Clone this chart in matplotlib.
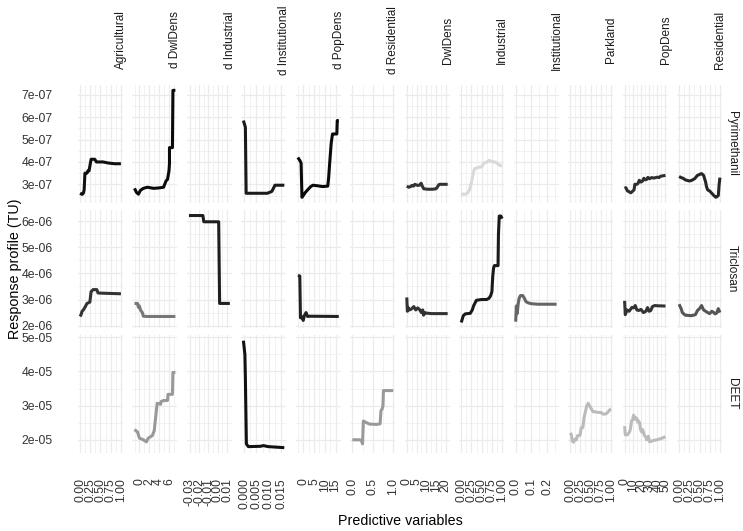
import numpy as np
import matplotlib.pyplot as plt
from matplotlib.ticker import FixedLocator, FixedFormatter, AutoMinorLocator, FuncFormatter

plt.rcParams['font.family'] = ['Liberation Sans', 'DejaVu Sans']

compounds = ['Pyrimethanil', 'Triclosan', 'DEET']
row_scale = [1e-07, 1e-06, 1e-05]
variables = ['Agricultural', 'd DwlDens', 'd Industrial', 'd Institutional', 'd PopDens',
             'd Residential', 'DwlDens', 'Industrial', 'Institutional', 'Parkland',
             'PopDens', 'Residential']

# x breaks per variable (values, labels)
x_ticks = [
    [0, 0.25, 0.5, 0.75, 1.0],
    [0, 2, 4, 6],
    [-0.03, -0.02, -0.01, 0.0, 0.01],
    [0.0, 0.005, 0.010, 0.015],
    [0, 5, 10, 15],
    [0.0, 0.5, 1.0],
    [0, 5, 10, 15, 20],
    [0, 0.25, 0.5, 0.75, 1.0],
    [0.0, 0.1, 0.2],
    [0, 0.25, 0.5, 0.75, 1.0],
    [0, 10, 20, 30, 40, 50],
    [0, 0.25, 0.5, 0.75, 1.0],
]
x_tick_labels = [
    ['0.00', '0.25', '0.50', '0.75', '1.00'],
    ['0', '2', '4', '6'],
    ['-0.03', '-0.02', '-0.01', '0.00', '0.01'],
    ['0.000', '0.005', '0.010', '0.015'],
    ['0', '5', '10', '15'],
    ['0.0', '0.5', '1.0'],
    ['0', '5', '10', '15', '20'],
    ['0.00', '0.25', '0.50', '0.75', '1.00'],
    ['0.0', '0.1', '0.2'],
    ['0.00', '0.25', '0.50', '0.75', '1.00'],
    ['0', '10', '20', '30', '40', '50'],
    ['0.00', '0.25', '0.50', '0.75', '1.00'],
]
# y breaks per compound, in units of row_scale
y_ticks = [[3, 4, 5, 6, 7], [2, 3, 4, 5, 6], [2, 3, 4, 5]]

# ---- Pyrimethanil (x1e-07) ----
pyr_agri_x = [0, 0.05, 0.08, 0.1, 0.12, 0.17, 0.19, 0.22, 0.27, 0.36, 0.40, 0.56, 0.7, 0.85, 1.0]
pyr_agri_y = [2.6, 2.55, 2.6, 2.75, 3.5, 3.5, 3.6, 3.6, 4.12, 4.12, 4.0, 4.0, 3.95, 3.92, 3.92]
pyr_ddwl_x = [-1.0, -0.6, -0.2, 0.2, 0.8, 1.6, 2.9, 4.0, 4.9, 5.4, 5.7, 6.0, 6.1, 6.1, 6.7, 6.8, 7.3]
pyr_ddwl_y = [2.82, 2.64, 2.56, 2.73, 2.82, 2.87, 2.82, 2.84, 2.87, 3.15, 3.22, 3.6, 3.93, 4.64, 4.64, 7.2, 7.2]
pyr_dinst_x = [-0.0003, 0.0005, 0.0008, 0.0094, 0.0105, 0.0112, 0.0118, 0.0125, 0.0163]
pyr_dinst_y = [5.85, 5.55, 2.6, 2.6, 2.65, 2.68, 2.8, 2.96, 2.96]
pyr_dpop_x = [-2.5, -1.5, -1.0, -0.6, 0.0, 1.0, 2.0, 3.5, 4.5, 7, 9, 11.4, 11.8, 12.4, 13.0,
              13.6, 14.5, 15.6, 15.8, 16.5]
pyr_dpop_y = [4.2, 4.05, 3.95, 2.42, 2.5, 2.64, 2.75, 2.9, 2.96, 2.93, 2.9, 2.92, 3.3, 4.1, 4.85,
              5.25, 5.25, 5.25, 5.85, 5.85]
pyr_dwl_x = [0, 1, 2, 2.6, 3.5, 4.1, 5, 5.6, 6.5, 7.4, 7.8, 8.7, 10.8, 13.3, 15, 15.5, 16.4, 17, 21]
pyr_dwl_y = [2.92, 2.87, 2.9, 2.95, 2.92, 3.0, 2.97, 2.95, 2.96, 3.05, 2.95, 2.8, 2.78, 2.78, 2.8,
             2.85, 2.98, 3.0, 3.0]
pyr_ind_x = [0, 0.1, 0.15, 0.2, 0.25, 0.3, 0.33, 0.42, 0.5, 0.55, 0.62, 0.68, 0.75, 0.85, 0.9, 0.95, 1.0]
pyr_ind_y = [2.56, 2.56, 2.6, 2.75, 3.1, 3.55, 3.7, 3.76, 3.78, 3.93, 4.0, 4.07, 4.02, 3.98, 3.9,
             3.84, 3.84]
pyr_pop_x = [0, 1.5, 3.5, 5, 7.5, 10, 11.5, 12.5, 15, 16.5, 18, 20, 22, 23.5, 25.5, 27, 28.5, 30.5,
             33, 36, 38, 40, 42, 44, 47, 50]
pyr_pop_y = [2.82, 2.85, 2.7, 2.68, 2.62, 2.7, 2.75, 3.0, 3.0, 3.05, 3.18, 3.1, 3.15, 3.27, 3.2,
             3.22, 3.31, 3.25, 3.3, 3.28, 3.3, 3.32, 3.3, 3.36, 3.38, 3.4]
pyr_res_x = [0, 0.05, 0.1, 0.15, 0.25, 0.3, 0.38, 0.45, 0.55, 0.6, 0.65, 0.67, 0.7, 0.75, 0.8, 0.85,
             0.9, 0.93, 0.96, 0.98, 1.0]
pyr_res_y = [3.35, 3.3, 3.27, 3.2, 3.15, 3.17, 3.25, 3.4, 3.48, 3.4, 3.1, 2.9, 2.75, 2.7, 2.6, 2.5,
             2.42, 2.45, 2.5, 3.0, 3.3]

# ---- Triclosan (x1e-06) ----
tri_agri_x = [0, 0.02, 0.05, 0.08, 0.12, 0.17, 0.24, 0.27, 0.32, 0.41, 0.44, 0.6, 1.0]
tri_agri_y = [2.35, 2.4, 2.55, 2.6, 2.7, 2.85, 2.9, 3.3, 3.38, 3.38, 3.25, 3.24, 3.22]
tri_ddwl_x = [-1.0, -0.4, -0.2, 0.0, 0.2, 0.6, 0.8, 1.6, 4, 7.3]
tri_ddwl_y = [2.85, 2.85, 2.7, 2.75, 2.6, 2.5, 2.36, 2.35, 2.35, 2.35]
tri_dind_x = [-0.031, -0.016, -0.015, 0.001, 0.002, 0.013]
tri_dind_y = [6.22, 6.22, 5.98, 5.98, 2.85, 2.85]
tri_dpop_x = [-2.5, -1.6, -1.3, -0.8, 0.0, 0.5, 1.3, 2.0, 3.0, 16.5]
tri_dpop_y = [3.92, 3.9, 2.3, 2.35, 2.2, 2.38, 2.5, 2.35, 2.36, 2.35]
tri_dwl_x = [0, 0.3, 0.6, 1.5, 2.6, 3.6, 4.6, 5.6, 6.5, 7.5, 8.2, 8.6, 9.3, 10, 12.6, 21]
tri_dwl_y = [3.08, 2.55, 2.7, 2.6, 2.65, 2.73, 2.6, 2.68, 2.62, 2.5, 2.6, 2.4, 2.5, 2.48, 2.46, 2.46]
tri_ind_x = [0, 0.05, 0.1, 0.15, 0.22, 0.27, 0.3, 0.37, 0.5, 0.62, 0.68, 0.72, 0.75, 0.77, 0.79,
             0.81, 0.9, 0.91, 0.93, 0.97, 1.0]
tri_ind_y = [2.12, 2.38, 2.45, 2.46, 2.47, 2.6, 2.75, 2.97, 3.0, 3.0, 3.05, 3.15, 3.3, 3.88, 4.2,
             4.3, 4.3, 5.5, 6.2, 6.2, 6.1]
tri_inst_x = [0, 0.004, 0.008, 0.012, 0.016, 0.022, 0.03, 0.045, 0.055, 0.065, 0.08, 0.1, 0.14, 0.26]
tri_inst_y = [2.15, 2.75, 2.45, 2.6, 2.85, 3.05, 3.15, 3.15, 3.05, 2.92, 2.87, 2.84, 2.82, 2.82]
tri_pop_x = [0, 0.8, 3, 5.5, 9, 11, 13, 15, 17, 20, 23, 26, 28, 30, 32, 34, 37, 40, 50]
tri_pop_y = [2.95, 2.42, 2.6, 2.55, 2.7, 2.68, 2.77, 2.6, 2.58, 2.62, 2.5, 2.55, 2.69, 2.55, 2.58,
             2.73, 2.77, 2.76, 2.75]
tri_res_x = [0, 0.05, 0.08, 0.15, 0.3, 0.4, 0.45, 0.5, 0.55, 0.6, 0.65, 0.7, 0.75, 0.8, 0.85, 0.88,
             0.92, 0.96, 1.0]
tri_res_y = [2.82, 2.65, 2.5, 2.4, 2.38, 2.42, 2.58, 2.65, 2.77, 2.6, 2.55, 2.5, 2.46, 2.55, 2.5,
             2.45, 2.48, 2.65, 2.5]

# ---- DEET (x1e-05) ----
deet_ddwl_x = [-1.0, -0.4, 0.0, 0.8, 1.4, 1.8, 2.6, 3.0, 3.4, 3.6, 4.3, 4.4, 4.9, 5.7, 5.8, 6.7, 6.8, 7.3]
deet_ddwl_y = [2.3, 2.23, 2.05, 2.0, 1.94, 2.05, 2.12, 2.26, 2.8, 3.07, 3.04, 3.12, 3.15, 3.15,
               3.33, 3.33, 3.97, 3.97]
deet_dinst_x = [-0.0003, 0.0003, 0.0005, 0.0009, 0.0017, 0.0066, 0.0078, 0.0098, 0.0163]
deet_dinst_y = [4.9, 4.5, 3.8, 1.88, 1.8, 1.81, 1.83, 1.8, 1.77]
deet_dres_x = [0, 0.18, 0.22, 0.25, 0.27, 0.35, 0.42, 0.6, 0.68, 0.7, 0.73, 0.75, 0.76, 1.0]
deet_dres_y = [2.0, 2.0, 1.98, 1.88, 2.55, 2.5, 2.46, 2.45, 2.47, 2.85, 2.9, 3.0, 3.44, 3.44]
deet_park_x = [0, 0.03, 0.05, 0.08, 0.12, 0.15, 0.18, 0.24, 0.27, 0.31, 0.34, 0.37, 0.4, 0.44, 0.48,
               0.52, 0.56, 0.62, 0.68, 0.75, 0.81, 0.88, 0.93, 0.97, 1.0]
deet_park_y = [2.2, 2.15, 1.97, 1.93, 2.02, 2.0, 2.12, 2.13, 2.35, 2.36, 2.65, 2.8, 2.97, 3.07, 2.98,
               2.9, 2.82, 2.82, 2.8, 2.8, 2.75, 2.76, 2.82, 2.88, 2.9]
deet_pop_x = [0, 0.8, 1.5, 3.5, 6, 7, 8.5, 10, 11, 12, 13.5, 14.7, 15.9, 17, 18.3, 19.5, 20.8, 22,
              23.2, 24.4, 26, 27, 28, 29, 30.6, 34, 39, 44, 50]
deet_pop_y = [2.4, 2.15, 2.14, 2.15, 2.23, 2.3, 2.55, 2.6, 2.72, 2.6, 2.65, 2.63, 2.52, 2.55, 2.5,
              2.3, 2.23, 2.3, 2.2, 2.12, 2.08, 2.0, 2.06, 2.1, 1.94, 1.97, 2.0, 2.03, 2.09]

# (row, column, x, y, line grey)
curves = [
    (0, 0, pyr_agri_x, pyr_agri_y, '#111111'),
    (0, 1, pyr_ddwl_x, pyr_ddwl_y, '#0a0a0a'),
    (0, 3, pyr_dinst_x, pyr_dinst_y, '#1a1a1a'),
    (0, 4, pyr_dpop_x, pyr_dpop_y, '#0a0a0a'),
    (0, 6, pyr_dwl_x, pyr_dwl_y, '#333333'),
    (0, 7, pyr_ind_x, pyr_ind_y, '#d9d9d9'),
    (0, 10, pyr_pop_x, pyr_pop_y, '#2e2e2e'),
    (0, 11, pyr_res_x, pyr_res_y, '#262626'),
    (1, 0, tri_agri_x, tri_agri_y, '#333333'),
    (1, 1, tri_ddwl_x, tri_ddwl_y, '#777777'),
    (1, 2, tri_dind_x, tri_dind_y, '#1f1f1f'),
    (1, 4, tri_dpop_x, tri_dpop_y, '#222222'),
    (1, 6, tri_dwl_x, tri_dwl_y, '#333333'),
    (1, 7, tri_ind_x, tri_ind_y, '#1a1a1a'),
    (1, 8, tri_inst_x, tri_inst_y, '#666666'),
    (1, 10, tri_pop_x, tri_pop_y, '#333333'),
    (1, 11, tri_res_x, tri_res_y, '#555555'),
    (2, 1, deet_ddwl_x, deet_ddwl_y, '#999999'),
    (2, 3, deet_dinst_x, deet_dinst_y, '#111111'),
    (2, 5, deet_dres_x, deet_dres_y, '#999999'),
    (2, 9, deet_park_x, deet_park_y, '#bbbbbb'),
    (2, 10, deet_pop_x, deet_pop_y, '#bbbbbb'),
]

W, H = 743, 531
fig, axes = plt.subplots(3, 12, sharex='col', sharey='row', figsize=(W / 100, H / 100), dpi=100)
plt.subplots_adjust(left=78 / W, right=722 / W, bottom=1 - 453 / H, top=1 - 85 / H,
                    wspace=0.211, hspace=0.064)

for r, c, xs, ys, col in curves:
    axes[r, c].plot(np.array(xs), np.array(ys) * row_scale[r], color=col, lw=2.2,
                    solid_joinstyle='round', solid_capstyle='butt')

txt_col = '#333333'
for r in range(3):
    for c in range(12):
        ax = axes[r, c]
        for s in ax.spines.values():
            s.set_visible(False)
        ax.xaxis.set_major_locator(FixedLocator(x_ticks[c]))
        ax.xaxis.set_major_formatter(FixedFormatter(x_tick_labels[c]))
        ax.xaxis.set_minor_locator(AutoMinorLocator(2))
        ax.yaxis.set_major_locator(FixedLocator([v * row_scale[r] for v in y_ticks[r]]))
        ax.yaxis.set_major_formatter(FuncFormatter(lambda v, p: f'{v:.0e}'))
        ax.yaxis.set_minor_locator(AutoMinorLocator(2))
        ax.grid(which='major', color='#ebebeb', lw=0.9)
        ax.grid(which='minor', color='#ebebeb', lw=0.45)
        ax.set_axisbelow(True)
        ax.tick_params(which='both', length=0)
        ax.tick_params(axis='y', pad=18, labelsize=8.8, labelcolor=txt_col)
        ax.tick_params(axis='x', pad=18, labelsize=8.8, labelcolor=txt_col, labelrotation=90)
        if r < 2:
            ax.tick_params(axis='x', labelbottom=False)
        if c > 0:
            ax.tick_params(axis='y', labelleft=False)

# strips
for c, name in enumerate(variables):
    pos = axes[0, c].get_position()
    fig.text(pos.x1 - 2 / W, 1 - 40 / H, name, rotation=90, ha='center', va='center',
             fontsize=8.5, color='#1a1a1a')
for r, name in enumerate(compounds):
    pos = axes[r, 11].get_position()
    fig.text(732 / W, (pos.y0 + pos.y1) / 2, name, rotation=-90, ha='center', va='center',
             fontsize=8.5, color='#1a1a1a')

fig.text(400 / W, 1 - 521 / H, 'Predictive variables', ha='center', va='center', fontsize=10.3)
fig.text(15 / W, 1 - 269 / H, 'Response profile (TU)', rotation=90, ha='center', va='center',
         fontsize=10.3)

fig.savefig('out.png', dpi=100)
